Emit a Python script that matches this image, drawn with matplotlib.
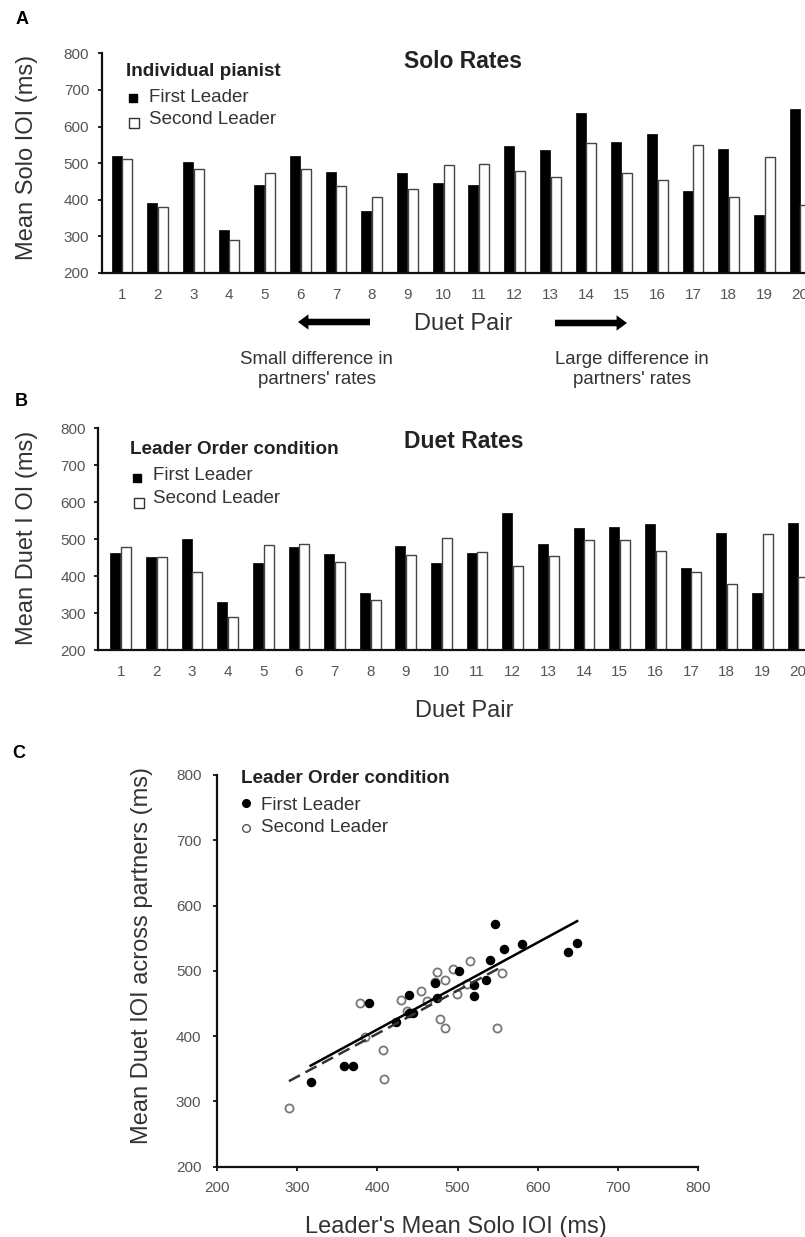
import numpy as np
import matplotlib
matplotlib.use("Agg")
import matplotlib.pyplot as plt
from matplotlib.lines import Line2D

plt.rcParams['font.family'] = ['Liberation Sans', 'DejaVu Sans']

# data
pairs = list(range(1, 21))
solo_first = [520, 390, 502, 317, 440, 520, 475, 370, 472, 445,
              440, 547, 535, 638, 558, 580, 424, 540, 358, 649]
solo_second = [512, 379, 485, 290, 472, 484, 437, 408, 430, 495,
               499, 478, 462, 556, 474, 455, 549, 407, 516, 385]
duet_first = [462, 451, 500, 329, 436, 478, 459, 355, 482, 436,
              463, 572, 486, 529, 533, 541, 422, 517, 355, 543]
duet_second = [480, 451, 412, 290, 483, 486, 439, 334, 456, 503,
               465, 427, 454, 497, 499, 469, 412, 379, 515, 398]
yticks = [200, 300, 400, 500, 600, 700, 800]
xticks_c = [200, 300, 400, 500, 600, 700, 800]

W, H = 805, 1237
TXT = '#333333'
TICK = '#555555'


def fx(x):
    return x / W


def fy(y):
    return 1 - y / H


def ftext(x, y, s, **kw):
    kw.setdefault('color', TXT)
    fig.text(fx(x), fy(y), s, **kw)


def style_axes(ax, xticks_visible=False):
    for side in ['top', 'right']:
        ax.spines[side].set_visible(False)
    for side in ['left', 'bottom']:
        ax.spines[side].set_linewidth(1.6)
        ax.spines[side].set_color('#111111')
    ax.tick_params(axis='y', direction='out', length=3, width=1.3,
                   colors='#111111', labelcolor=TICK, labelsize=11, pad=6)
    if xticks_visible:
        ax.tick_params(axis='x', direction='out', length=3, width=1.3,
                       colors='#111111', labelcolor=TICK, labelsize=11, pad=7)
    else:
        ax.tick_params(axis='x', length=0, labelcolor=TICK, labelsize=11, pad=11)


fig = plt.figure(figsize=(W / 100, H / 100), dpi=100)

x = np.array(pairs)
bw = 0.28

# ---- panel A: solo rates
axA = fig.add_axes([fx(101.7), fy(273), 1 - fx(101.7), (273 - 53.3) / H])
axA.bar(x - 0.15, solo_first, bw, bottom=0, color='black', edgecolor='black', lw=0.5)
axA.bar(x + 0.15, solo_second, bw, color='white', edgecolor='#444444', lw=1.0)
axA.set_xlim(0.431, 20.14)
axA.set_ylim(200, 800)
axA.set_yticks(yticks)
axA.set_xticks(pairs)
style_axes(axA)

# ---- panel B: duet rates
axB = fig.add_axes([fx(98.3), fy(650), 1 - fx(98.3), (650 - 428.3) / H])
axB.bar(x - 0.15, duet_first, bw, color='black', edgecolor='black', lw=0.5)
axB.bar(x + 0.15, duet_second, bw, color='white', edgecolor='#444444', lw=1.0)
axB.set_xlim(0.372, 20.2)
axB.set_ylim(200, 800)
axB.set_yticks(yticks)
axB.set_xticks(pairs)
style_axes(axB)

# ---- panel C: duet vs solo scatter
axC = fig.add_axes([fx(216.7), fy(1166.7), 481.6 / W, 391.7 / H])
axC.scatter(solo_second, duet_second, s=34, facecolor='white',
            edgecolor='#777777', linewidth=1.3, zorder=3)
axC.scatter(solo_first, duet_first, s=34, color='black', zorder=4)

b1 = np.polyfit(solo_first, duet_first, 1)
xs1 = np.array([min(solo_first), max(solo_first)])
axC.plot(xs1, np.polyval(b1, xs1), color='black', lw=1.8, zorder=5)
b2 = np.polyfit(solo_second, duet_second, 1)
xs2 = np.array([min(solo_second), max(solo_second)])
axC.plot(xs2, np.polyval(b2, xs2), color='#333333', lw=1.8,
         dashes=(5, 2.5), zorder=5)

axC.set_xlim(200, 800)
axC.set_ylim(200, 800)
axC.set_xticks(xticks_c)
axC.set_yticks(yticks)
style_axes(axC, xticks_visible=True)
axC.tick_params(axis='y', length=3, pad=8)

# ---- text: panel letters, titles, axis labels
for lab, (px, py) in zip('ABC', [(22, 19), (21, 401), (19, 754)]):
    ftext(px, py, lab, fontsize=13, fontweight='bold', color='black',
          ha='center', va='center')

ftext(463, 61.7, 'Solo Rates', fontsize=16.5, fontweight='bold',
      color='#222222', ha='center', va='center')
ftext(464, 441.7, 'Duet Rates', fontsize=16.5, fontweight='bold',
      color='#222222', ha='center', va='center')

ftext(27, 157, 'Mean Solo IOI (ms)', fontsize=17, rotation=90,
      ha='center', va='center')
ftext(27, 538, 'Mean Duet I OI (ms)', fontsize=17, rotation=90,
      ha='center', va='center')
ftext(141.5, 956, 'Mean Duet IOI across partners (ms)', fontsize=17,
      rotation=90, ha='center', va='center')

ftext(463, 324, 'Duet Pair', fontsize=17, ha='center', va='center')
ftext(464.5, 711, 'Duet Pair', fontsize=17, ha='center', va='center')
ftext(456, 1226.7, "Leader's Mean Solo IOI (ms)", fontsize=17,
      ha='center', va='center')

ftext(316.7, 369.5, "Small difference in\npartners' rates", fontsize=13.4,
      ha='center', va='center', linespacing=1.2)
ftext(632, 369.5, "Large difference in\npartners' rates", fontsize=13.4,
      ha='center', va='center', linespacing=1.2)

arrow_style = 'simple,head_length=0.75,head_width=1.1,tail_width=0.47'
for x0, x1, yy in [(370, 298, 322), (555, 627, 323)]:
    fig.add_artist(matplotlib.patches.FancyArrowPatch(
        (fx(x0), fy(yy)), (fx(x1), fy(yy)), transform=fig.transFigure,
        arrowstyle=arrow_style, mutation_scale=10, color='black', lw=0,
        shrinkA=0, shrinkB=0))

# ---- hand-placed legends
def square(px, py, size, face, edge):
    fig.add_artist(Line2D([fx(px)], [fy(py)], marker='s', markersize=size,
                          markerfacecolor=face, markeredgecolor=edge,
                          markeredgewidth=1.0, transform=fig.transFigure))


ftext(126, 71.7, 'Individual pianist', fontsize=13.6, fontweight='bold',
      color='#222222', va='center')
ftext(149, 97.3, 'First Leader', fontsize=13.5, va='center')
ftext(149, 119, 'Second Leader', fontsize=13.5, va='center')
square(133, 97.5, 5.5, 'black', 'black')
square(133.5, 123, 6.5, 'white', '#333333')

ftext(130, 450, 'Leader Order condition', fontsize=13.6, fontweight='bold',
      color='#222222', va='center')
ftext(153, 476, 'First Leader', fontsize=13.5, va='center')
ftext(153, 498.3, 'Second Leader', fontsize=13.5, va='center')
square(136.7, 478, 5.5, 'black', 'black')
square(138.5, 503, 6.5, 'white', '#333333')

ftext(241, 778.3, 'Leader Order condition', fontsize=13.6, fontweight='bold',
      color='#222222', va='center')
ftext(261, 805, 'First Leader', fontsize=13.5, va='center')
ftext(261, 827, 'Second Leader', fontsize=13.5, va='center')
fig.add_artist(Line2D([fx(246)], [fy(803)], marker='o', markersize=5.5,
                      markerfacecolor='black', markeredgecolor='black',
                      transform=fig.transFigure))
fig.add_artist(Line2D([fx(246)], [fy(828)], marker='o', markersize=5.5,
                      markerfacecolor='white', markeredgecolor='#555555',
                      markeredgewidth=1.0, transform=fig.transFigure))

fig.savefig('out.png', dpi=100, facecolor='white')
